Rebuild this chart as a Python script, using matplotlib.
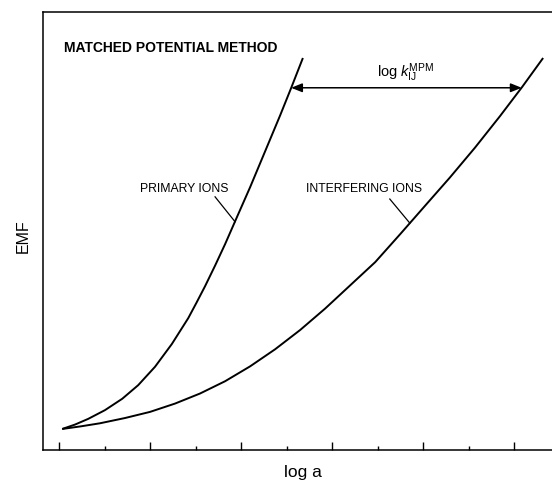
import matplotlib
matplotlib.use("Agg")
import matplotlib.pyplot as plt
from matplotlib.patches import FancyArrowPatch

plt.rcParams["font.family"] = ["Liberation Sans", "DejaVu Sans"]
plt.rcParams["mathtext.fontset"] = "custom"
plt.rcParams["mathtext.rm"] = "Liberation Sans"
plt.rcParams["mathtext.it"] = "Liberation Sans:italic"

# Calibration curves (log a vs EMF, arbitrary units)
primary_loga = [0.07, 0.35, 0.64, 1.01, 1.39, 1.74, 2.11, 2.48, 2.84, 3.02, 3.21,
                3.43, 3.65, 3.92, 4.20, 4.53, 4.86, 5.10, 5.36]
primary_emf = [0.48, 0.58, 0.71, 0.91, 1.17, 1.48, 1.90, 2.42, 3.01, 3.36, 3.74,
               4.21, 4.70, 5.34, 6.00, 6.82, 7.64, 8.26, 8.95]

interf_loga = [0.07, 0.48, 0.90, 1.45, 2.00, 2.55, 3.10, 3.65, 4.20, 4.75, 5.30,
               5.85, 6.40, 6.95, 7.50, 8.04, 8.59, 9.14, 9.69, 10.18, 10.64]
interf_emf = [0.48, 0.54, 0.61, 0.73, 0.87, 1.06, 1.29, 1.57, 1.91, 2.30, 2.74,
              3.23, 3.76, 4.29, 4.93, 5.57, 6.22, 6.90, 7.62, 8.29, 8.95]

# Matched-potential level and the activities reaching it
mpm_emf = 8.27
mpm_primary_loga = 5.10
mpm_interf_loga = 10.17

tick_positions = list(range(0, 11))

fig = plt.figure(figsize=(5.52, 4.83), dpi=100)
ax = fig.add_axes([43 / 552, 1 - 450 / 483, 1 - 43 / 552, (450 - 12) / 483])
ax.set_xlim(-0.352, 10.835)
ax.set_ylim(0, 10)

lw = 1.4
ax.plot(primary_loga, primary_emf, color="black", lw=lw, solid_capstyle="butt",
        solid_joinstyle="round")
ax.plot(interf_loga, interf_emf, color="black", lw=lw, solid_capstyle="butt",
        solid_joinstyle="round")

arrow = FancyArrowPatch((mpm_primary_loga, mpm_emf), (mpm_interf_loga, mpm_emf),
                        arrowstyle="<|-|>,head_length=0.55,head_width=0.22",
                        shrinkA=0, shrinkB=0, color="black", lw=1.1,
                        mutation_scale=12)
ax.add_patch(arrow)
ax.text(7.62, 8.52, r"$\log\,k_{\mathrm{IJ}}^{\mathrm{MPM}}$", fontsize=10.5,
        ha="center", va="baseline")

ax.text(0.11, 9.18, "MATCHED POTENTIAL METHOD", fontsize=10, fontweight="bold",
        ha="left", va="center")

ax.text(2.75, 5.96, "PRIMARY IONS", fontsize=8.8, ha="center", va="center")
ax.plot([3.43, 3.87], [5.78, 5.21], color="black", lw=0.9)
ax.text(6.70, 5.96, "INTERFERING IONS", fontsize=8.8, ha="center", va="center")
ax.plot([7.27, 7.71], [5.73, 5.18], color="black", lw=0.9)

ax.spines["right"].set_visible(False)
for side in ("left", "top", "bottom"):
    ax.spines[side].set_linewidth(1.1)

major = [t for t in tick_positions if t % 2 == 0]
minor = [t for t in tick_positions if t % 2 == 1]
ax.set_xticks(major)
ax.set_xticks(minor, minor=True)
ax.set_yticks([])
ax.tick_params(axis="x", which="major", direction="in", length=5.5, width=1.0,
               labelbottom=False, top=False)
ax.tick_params(axis="x", which="minor", direction="in", length=3, width=1.0,
               labelbottom=False, top=False)

fig.text(23 / 552, 1 - 236 / 483, "EMF", fontsize=11.5, rotation=90,
         ha="center", va="center")
fig.text(303 / 552, 1 - 472 / 483, "log a", fontsize=12.5, ha="center", va="center")

fig.savefig("out.png", dpi=100)
